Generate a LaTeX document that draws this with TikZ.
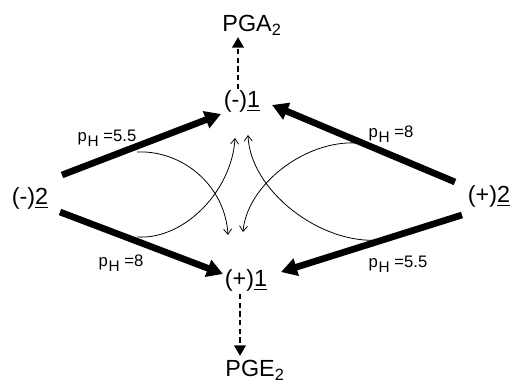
\documentclass[tikz,border=0pt]{standalone}
\usepackage{fontspec}
\setmainfont{Liberation Sans}
\usetikzlibrary{arrows.meta}
\newcommand{\pHsub}{p\kern0.5pt\raisebox{-0.55ex}{\fontsize{11.5}{12}\selectfont H}}

\begin{document}
\begin{tikzpicture}[x=0.75pt,y=0.75pt,yscale=-1,xscale=1,
  big/.style={font=\fontsize{17.5}{20}\selectfont,inner sep=0pt,anchor=base},
  phlbl/.style={font=\fontsize{12.5}{14}\selectfont,inner sep=0pt,anchor=base},
  thickarr/.style={line width=5pt,-{Triangle[length=12pt,width=13pt]}},
  thinarr/.style={line width=0.6pt,-{Straight Barb[length=4pt,width=6pt]}},
  dasharr/.style={line width=2pt,dash pattern={on 4pt off 2.5pt},-{Triangle[length=8pt,width=8.5pt]}}]
\useasboundingbox (0,0) rectangle (518,384);

% Text Node
\node[big] (pga) at (252,32) {PGA\textsubscript{2}};
% Text Node
\node[big] (pge) at (255,377) {PGE\textsubscript{2}};
% Text Node
\node[big] (m1) at (242,108) {(-)\underline{1}};
% Text Node
\node[big] (p1) at (246,287) {(+)\underline{1}};
% Text Node
\node[big] (m2) at (30,205) {(-)\underline{2}};
% Text Node
\node[big] (p2) at (489,203) {(+)\underline{2}};

% pH labels
\node[phlbl] (ph1) at (107,142) {\pHsub\ =5.5};
\node[phlbl] (ph2) at (391,138) {\pHsub\ =8};
\node[phlbl] (ph3) at (121,267) {\pHsub\ =8};
\node[phlbl] (ph4) at (398,268) {\pHsub\ =5.5};

% ends of the thick arrows
\coordinate (m2a) at (62,175);
\coordinate (m2b) at (60,212);
\coordinate (p2a) at (455,182);
\coordinate (p2b) at (462,215);
\coordinate (m1l) at (221,114);
\coordinate (m1r) at (272,105);
\coordinate (p1l) at (223,274);
\coordinate (p1r) at (281,272);

% Thick arrows
\draw[thickarr] (m2a) -- (m1l);
\draw[thickarr] (p2a) -- (m1r);
\draw[thickarr] (m2b) -- (p1l);
\draw[thickarr] (p2b) -- (p1r);

% Dashed arrows
\coordinate (m1t) at (238,89);
\coordinate (pgab) at (238,37);
\coordinate (p1b) at (240,294);
\coordinate (pget) at (240,356);
\draw[dasharr] (m1t) -- (pgab);
\draw[dasharr] (p1b) -- (pget);

% Thin curved arrows
\coordinate (s1) at (137,152);
\coordinate (e1) at (228,235);
\coordinate (s2) at (137,237);
\coordinate (e2) at (235,138);
\coordinate (s3) at (357,143);
\coordinate (e3) at (243,232);
\coordinate (s4) at (380,240);
\coordinate (e4) at (248,135);
\draw[thinarr] (s1) .. controls (182,150) and (225,185) .. (e1);
\draw[thinarr] (s2) .. controls (185,240) and (232,190) .. (e2);
\draw[thinarr] (s3) .. controls (305,140) and (247,185) .. (e3);
\draw[thinarr] (s4) .. controls (320,245) and (250,190) .. (e4);

\end{tikzpicture}
\end{document}
